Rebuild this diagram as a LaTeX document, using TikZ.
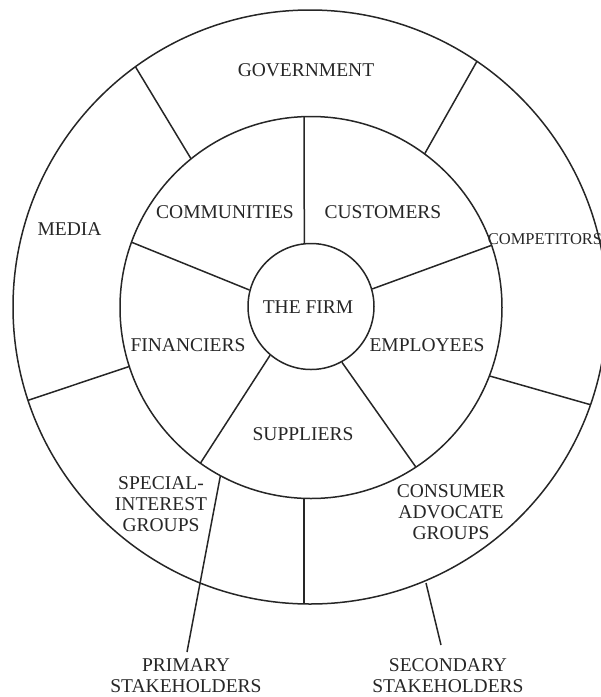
\documentclass[tikz,border=0pt]{standalone}
\usepackage{fontspec}
\setmainfont{Liberation Serif}
\begin{document}
\begin{tikzpicture}[x=1pt,y=-1pt,
  ring/.style={draw=black!85, line width=1.5pt},
  spoke/.style={draw=black!85, line width=1.5pt},
  lbl/.style={font=\fontsize{19.5}{21}\selectfont, align=center, inner sep=0pt, text=black!85},
  small/.style={lbl, font=\fontsize{16.5}{18}\selectfont},
]
\useasboundingbox (0,0) rectangle (601,697);

% outer ring (runs past the right edge of the page)
\begin{scope}
  \clip (0,0) rectangle (601,697);
  \draw[ring] (310,307) circle[radius=297pt];
\end{scope}

% middle ring
\draw[ring] (311,307.5) circle[radius=191pt];

% the firm at the centre
\node[circle, ring, minimum size=126pt, inner sep=0pt, lbl] (firm) at (311,306.5) {};
\node[lbl] (firmtxt) at (308,307) {THE FIRM};

% points on the middle ring
\coordinate (m1) at (304,116.6);
\coordinate (m2) at (131.5,242.2);
\coordinate (m3) at (491.6,245.3);
\coordinate (m4) at (200.4,463.2);
\coordinate (m5) at (415.9,467.1);
\coordinate (m6) at (191.1,158.9);
\coordinate (m7) at (424.6,153.9);
\coordinate (m8) at (129.3,366.5);
\coordinate (m9) at (489.3,375.9);
\coordinate (m10) at (304,498.4);
\coordinate (m11) at (220.4,475.7);

% points on the outer ring
\coordinate (o1) at (135.4,66.7);
\coordinate (o2) at (476.9,61.4);
\coordinate (o3) at (28.0,400.3);
\coordinate (o4) at (590.5,404.7);
\coordinate (o5) at (304,603.9);
\coordinate (o6) at (426,583);

% free ends of the stakeholder leaders
\coordinate (pend) at (187,652);
\coordinate (send) at (441,645);

% primary stakeholder sectors
\draw[spoke] (firm.96) -- (m1);
\draw[spoke] (firm.165) -- (m2);
\draw[spoke] (firm.16) -- (m3);
\draw[spoke] (firm.230) -- (m4);
\draw[spoke] (firm.299) -- (m5);

% secondary stakeholder sectors
\draw[spoke] (m6) -- (o1);
\draw[spoke] (m7) -- (o2);
\draw[spoke] (m8) -- (o3);
\draw[spoke] (m9) -- (o4);
\draw[spoke] (m10) -- (o5);

% leaders to the group captions
\draw[spoke] (m11) -- (pend);
\draw[spoke] (o6) -- (send);

% labels
\node[lbl] (gov) at (306,70) {GOVERNMENT};
\node[lbl] (media) at (69.5,229) {MEDIA};
\node[lbl] (comm) at (225,212) {COMMUNITIES};
\node[lbl] (cust) at (383,212) {CUSTOMERS};
\node[small] (comp) at (545,239) {COMPETITORS};
\node[lbl] (fin) at (188,345) {FINANCIERS};
\node[lbl] (emp) at (427,345) {EMPLOYEES};
\node[lbl] (sup) at (303,434) {SUPPLIERS};
\node[lbl] (sig) at (161,504) {SPECIAL-\\INTEREST\\GROUPS};
\node[lbl] (cag) at (451,512.5) {CONSUMER\\ADVOCATE\\GROUPS};
\node[lbl] (prim) at (186,676) {PRIMARY\\STAKEHOLDERS};
\node[lbl] (sec) at (448,676) {SECONDARY\\STAKEHOLDERS};
\end{tikzpicture}
\end{document}
